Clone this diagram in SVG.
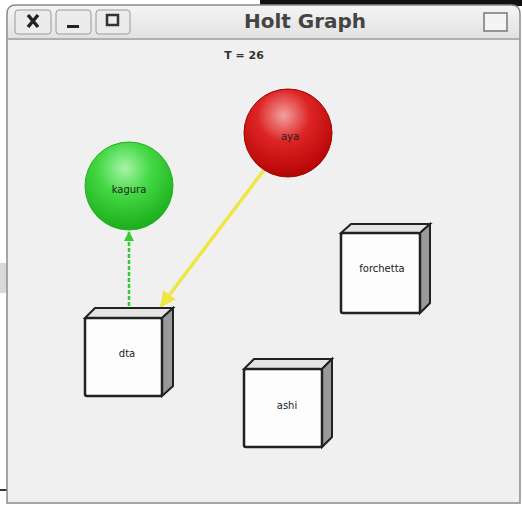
<svg xmlns="http://www.w3.org/2000/svg" width="522" height="507" viewBox="0 0 522 507">
<defs>
<radialGradient id="gg" cx="0.45" cy="0.3" r="0.75">
<stop offset="0" stop-color="#a8f5a8"/><stop offset="0.4" stop-color="#44d844"/><stop offset="1" stop-color="#16a816"/>
</radialGradient>
<radialGradient id="rg" cx="0.45" cy="0.3" r="0.75">
<stop offset="0" stop-color="#f3a0a0"/><stop offset="0.4" stop-color="#dd2424"/><stop offset="1" stop-color="#b00000"/>
</radialGradient>
<linearGradient id="tb" x1="0" y1="0" x2="0" y2="1">
<stop offset="0" stop-color="#f4f4f4"/><stop offset="1" stop-color="#e2e2e2"/>
</linearGradient>
<marker id="ay" viewBox="0 0 10 10" refX="9" refY="5" markerWidth="4.5" markerHeight="4.5" orient="auto"><path d="M0,0 L10,5 L0,10 z" fill="#efe545"/></marker>
<marker id="ag" viewBox="0 0 10 10" refX="9" refY="5" markerWidth="4" markerHeight="4" orient="auto"><path d="M0,0 L10,5 L0,10 z" fill="#33cc33"/></marker>
</defs>
<style>
.lbl{font-family:"DejaVu Sans",sans-serif;font-size:10px;fill:#222;text-anchor:middle}
.front{fill:#fdfdfd;stroke:#222;stroke-width:2.5}
.top{fill:#e4e4e4;stroke:#222;stroke-width:2}
.side{fill:#9a9a9a;stroke:#222;stroke-width:2}
.btn{fill:#ececec;stroke:#9a9a9a;stroke-width:1}
</style>
<rect width="522" height="507" fill="#ffffff"/>
<rect x="260" y="0" width="262" height="6" fill="#111"/>
<rect x="0" y="263" width="8" height="30" fill="#d8d8d8"/>
<rect x="0" y="489" width="8" height="2" fill="#333"/>
<g id="window">
<path d="M7,503 L7,14 Q7,5 16,5 L511,5 Q520,5 520,14 L520,503 Z" fill="#f0f0f0" stroke="#8a8a8a" stroke-width="1.5"/>
<path d="M8,38 L8,14 Q8,6 16,6 L511,6 Q519,6 519,14 L519,38 Z" fill="url(#tb)"/>
<line x1="8" y1="39" x2="519" y2="39" stroke="#9a9a9a" stroke-width="1.5"/>
<rect class="btn" x="15" y="10" width="36" height="24" rx="3"/>
<rect class="btn" x="56" y="10" width="35" height="24" rx="3"/>
<rect class="btn" x="96" y="10" width="34" height="24" rx="3"/>
<path d="M28,15 L38,27 M38,15 L28,27" stroke="#222" stroke-width="3.5"/>
<rect x="67" y="25" width="12" height="3" fill="#222"/>
<rect x="107" y="15" width="11" height="10" fill="none" stroke="#333" stroke-width="2.5"/>
<text x="305" y="28" font-family="DejaVu Sans, sans-serif" font-size="20" font-weight="bold" fill="#444" text-anchor="middle">Holt Graph</text>
<rect x="484" y="13" width="23" height="18" fill="#f4f4f4" stroke="#777" stroke-width="1.5"/>
<text x="244" y="59" font-family="DejaVu Sans, sans-serif" font-size="11" font-weight="bold" fill="#333" text-anchor="middle">T = 26</text>
</g>
<g id="connectors">
<line x1="129" y1="306" x2="129" y2="232" stroke="#33cc33" stroke-width="2.5" stroke-dasharray="4,2" marker-end="url(#ag)"/>
<line x1="264" y1="170" x2="161" y2="306" stroke="#efe545" stroke-width="3.5" marker-end="url(#ay)"/>
</g>
<g id="kagura">
<circle cx="129" cy="186" r="44" fill="url(#gg)" stroke="#22b022" stroke-width="1"/>
<text class="lbl" x="129" y="193">kagura</text>
</g>
<g id="aya">
<circle cx="288" cy="133" r="44" fill="url(#rg)" stroke="#990000" stroke-width="1"/>
<text class="lbl" x="290" y="140">aya</text>
</g>
<g id="dta">
<path class="top" d="M85,318 L95,308 L173,308 L162,318 Z"/>
<path class="side" d="M162,318 L173,308 L173,386 L162,396 Z"/>
<rect class="front" x="85" y="318" width="77" height="78" rx="2"/>
<text class="lbl" x="127" y="357">dta</text>
</g>
<g id="forchetta">
<path class="top" d="M341,233 L351,224 L430,224 L420,233 Z"/>
<path class="side" d="M420,233 L430,224 L430,303 L420,313 Z"/>
<rect class="front" x="341" y="233" width="79" height="80" rx="2"/>
<text class="lbl" x="382" y="272">forchetta</text>
</g>
<g id="ashi">
<path class="top" d="M244,369 L254,359 L332,359 L322,369 Z"/>
<path class="side" d="M322,369 L332,359 L332,437 L322,447 Z"/>
<rect class="front" x="244" y="369" width="78" height="78" rx="2"/>
<text class="lbl" x="287" y="409">ashi</text>
</g>
</svg>
